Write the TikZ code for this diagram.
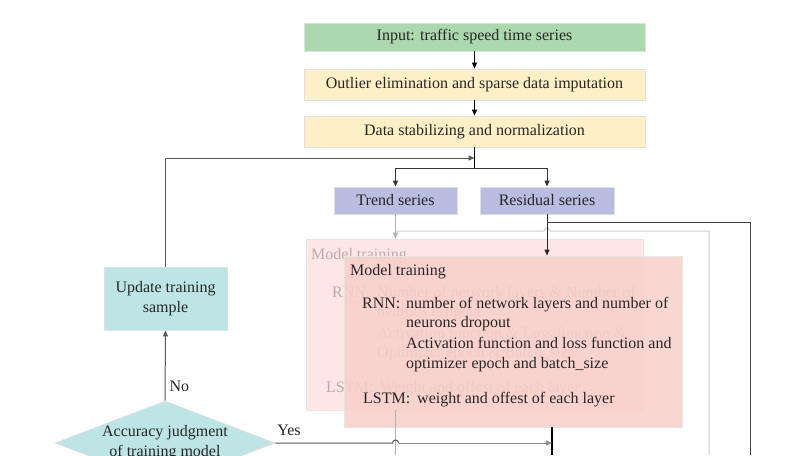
\documentclass[tikz,border=0pt]{standalone}
\usepackage{fontspec}
\setmainfont{Liberation Serif}
\usepackage{xcolor}
\usetikzlibrary{arrows.meta,shapes.geometric}

\definecolor{ingreen}{HTML}{ACD8AE}
\definecolor{preyellow}{HTML}{FDEFC6}
\definecolor{serblue}{HTML}{B9BDE0}
\definecolor{upcyan}{HTML}{BEE5E5}
\definecolor{newpink}{HTML}{F9CFCB}
\definecolor{oldpink}{HTML}{FDE6E3}
\definecolor{oldtext}{HTML}{B8AEAB}

\begin{document}
\begin{tikzpicture}[x=1pt,y=-1pt,
        every node/.style={font=\fontsize{16}{20}\selectfont, text=black!85},
        box/.style={draw=black!12, line width=0.8pt, inner sep=0pt},
        txt/.style={anchor=base west, inner sep=0pt},
        faded/.style={txt, text=oldtext},
        arr/.style={-{Triangle[length=6pt,width=5pt]}, line width=1pt}]
        \useasboundingbox (0,0) rectangle (808,455);
        \clip (0,0) rectangle (808,455);

        % preprocessing
        \node[box, fill=ingreen, minimum width=341pt, minimum height=28pt] (input) at (474.5,37) {Input: traffic speed time series};
        \node[box, fill=preyellow, minimum width=341pt, minimum height=31pt] (clean) at (474.5,84.5) {Outlier elimination and sparse data imputation};
        \node[box, fill=preyellow, minimum width=341pt, minimum height=31pt] (norm) at (474.5,131.5) {Data stabilizing and normalization};
        \node[box, fill=serblue, minimum width=123pt, minimum height=27pt] (trend) at (395.5,200.5) {Trend series};
        \node[box, fill=serblue, minimum width=134pt, minimum height=27pt] (resid) at (547,200.5) {Residual series};

        % feedback loop
        \node[box, fill=upcyan, minimum width=123pt, minimum height=63pt, align=center] (update) at (165.5,298.5) {Update training\\sample};
        \node[diamond, box, fill=upcyan, aspect=2.6, minimum width=220pt, minimum height=84pt, align=center] (judge) at (165,443) {Accuracy judgment\\of training model};

        % model training, old and new
        \node[box, fill=oldpink, draw=black!10, minimum width=337pt, minimum height=171pt] (oldfit) at (474.5,324.5) {};
        \node[faded] (oldtitle) at (311,259) {Model training};
        \node[faded] (oldrnn) at (332,297) {RNN:};
        \node[faded] (oldrnnA) at (377,297) {Number of network layers \& Number of};
        \node[faded] (oldrnnB) at (377,316) {neurons dropout};
        \node[faded] (oldrnnC) at (377,338) {Activation function \& Loss function \&};
        \node[faded] (oldrnnD) at (377,357) {Optimizer epoch \& Batch\_size};
        \node[faded] (oldlstm) at (326,392) {LSTM:};
        \node[faded] (oldlstmA) at (380,392) {Weight and offest of each layer};

        \node[box, fill=newpink, fill opacity=0.85, draw=black!10, minimum width=338pt, minimum height=171pt] (newfit) at (513,341.5) {};
        \node[txt] (newtitle) at (350,275) {Model training};
        \node[txt] (newrnn) at (362,308) {RNN:};
        \node[txt] (newrnnA) at (406,308) {number of network layers and number of};
        \node[txt] (newrnnB) at (406,327) {neurons dropout};
        \node[txt] (newrnnC) at (406,348) {Activation function and loss function and};
        \node[txt] (newrnnD) at (406,368) {optimizer epoch and batch\_size};
        \node[txt] (newlstm) at (363,403) {LSTM:};
        \node[txt] (newlstmA) at (417,403) {weight and offest of each layer};

        \coordinate (split) at (474.5,168);
        \coordinate (fb) at (474.5,158);
        \coordinate (gline) at (395.5,231);
        \coordinate (dline) at (547,222);
        \coordinate (fdown) at (552,455);

        % connectors
        \draw[arr, black] (input.south) -- (clean.north);
        \draw[arr, black] (clean.south) -- (norm.north);
        \draw[line width=1pt, black] (norm.south) -- (split);
        \draw[arr, black!80] (split) -| (trend.north);
        \draw[arr, black!80] (split) -| (resid.north);
        \draw[arr, black!65] (update.north) |- (fb);
        \draw[arr, black!30] (trend.south) -- (trend.south |- oldfit.north);
        \draw[line width=1pt, black!20] (gline) -- (544,231) arc[start angle=180, end angle=0, radius=3pt] -- (709,231) -- (709,455);
        \draw[arr, black!85] (resid.south) -- (resid.south |- newfit.north);
        \draw[line width=1pt, black!75] (dline) -- (750,222) -- (750,455);
        \draw[line width=1pt, black!30] (oldfit.south -| trend.south) -- (395.5,455);
        \draw[line width=1.6pt, black] (newfit.south -| fdown) -- (fdown);
        \draw[arr, black!65] (judge.north) -- (update.south) node[pos=0.2, right, inner sep=4pt] (nolabel) {No};
        \draw[line width=1pt, black!65] (judge.east) -- (392.5,443) arc[start angle=180, end angle=0, radius=3pt];
        \draw[arr, black!45] (398.5,443) -- (fdown |- judge.east);
        \node (yeslabel) at (289,430) {Yes};
\end{tikzpicture}
\end{document}
